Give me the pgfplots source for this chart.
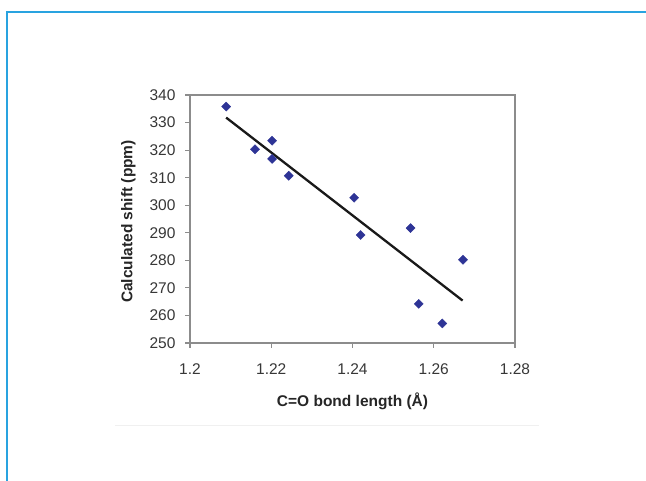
\documentclass[border=0pt]{standalone}
\usepackage{fontspec}
\setmainfont{Liberation Sans}
\usepackage{pgfplots}
\pgfplotsset{compat=1.18}
\definecolor{markblue}{RGB}{46,52,150}
\definecolor{framecol}{RGB}{41,163,224}
\definecolor{axgray}{RGB}{140,140,140}
\definecolor{txtgray}{RGB}{55,55,55}
\begin{document}
\begin{tikzpicture}[x=1pt,y=1pt]
\useasboundingbox (0,0) rectangle (646,481);
\fill[white] (0,0) rectangle (646,481);
\draw[framecol, line width=1.5pt] (7,0) -- (7,469) -- (646,469);
\draw[black!6, line width=0.8pt] (115,56) -- (539,56);
\begin{axis}[
  scale only axis,
  width=325pt, height=248pt,
  at={(190pt,138pt)}, anchor=south west,
  xmin=1.2, xmax=1.28, ymin=250, ymax=340,
  xtick={1.2,1.22,1.24,1.26,1.28},
  xticklabels={1.2,1.22,1.24,1.26,1.28},
  ytick={250,260,...,340},
  axis line style={axgray, line width=1.1pt},
  tick style={axgray, line width=1.1pt},
  major tick length=5pt,
  tick align=outside,
  xtick pos=left, ytick pos=left,
  /pgf/number format/assume math mode=true,
  ticklabel style={font=\fontsize{15.5}{17}\selectfont, text=txtgray},
  xticklabel style={yshift=-12pt},
  yticklabel style={xshift=-6pt},
  xlabel={C=O bond length (Å)},
  ylabel={Calculated shift (ppm)},
  label style={font=\bfseries\fontsize{15.5}{17}\selectfont, text=black!85},
  xlabel style={at={(axis description cs:0.5,-0.236)}, anchor=center},
  ylabel style={at={(axis description cs:-0.19,0.49)}, anchor=center},
  clip=false,
]
\addplot[only marks, mark=square*, mark size=3.2pt,
  mark options={rotate=45, fill=markblue, draw=markblue}]
  coordinates {
  (1.2089,335.8) (1.2160,320.3) (1.2202,323.4) (1.2202,316.8)
  (1.2243,310.7) (1.2404,302.7) (1.2420,289.2) (1.2543,291.7)
  (1.2563,264.2) (1.2621,257.1) (1.2672,280.2)
  };
\addplot[color=black!90, line width=2.3pt] coordinates {(1.2089,331.8) (1.2671,265.4)};
\end{axis}
\end{tikzpicture}
\end{document}
